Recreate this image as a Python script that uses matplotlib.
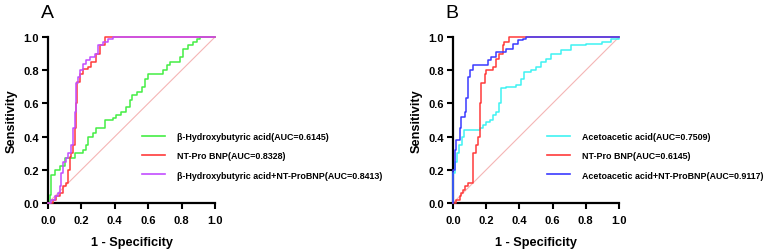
import numpy as np
import matplotlib.pyplot as plt
from matplotlib.lines import Line2D

plt.rcParams['font.family'] = ['Liberation Sans', 'DejaVu Sans']

# ---- panel A: beta-hydroxybutyric acid ----
a_green_fpr = [0, 0.01, 0.02, 0.04, 0.07, 0.10, 0.16, 0.21, 0.23, 0.24, 0.27, 0.29, 0.34, 0.39, 0.41,
               0.44, 0.47, 0.49, 0.50, 0.53, 0.56, 0.58, 0.60, 0.69, 0.71, 0.73, 0.79, 0.81, 0.84, 0.87,
               0.89, 0.91, 1.0]
a_green_tpr = [0, 0.05, 0.17, 0.20, 0.22, 0.27, 0.30, 0.32, 0.35, 0.40, 0.42, 0.45, 0.50, 0.51, 0.53,
               0.55, 0.58, 0.62, 0.65, 0.67, 0.70, 0.75, 0.78, 0.80, 0.83, 0.85, 0.88, 0.93, 0.95, 0.97,
               0.99, 1.0, 1.0]
a_red_fpr = [0, 0.03, 0.05, 0.07, 0.09, 0.11, 0.12, 0.13, 0.14, 0.15, 0.16, 0.165, 0.175, 0.19, 0.21,
             0.24, 0.26, 0.29, 0.31, 0.34, 1.0]
a_red_tpr = [0, 0.02, 0.04, 0.06, 0.10, 0.12, 0.20, 0.28, 0.30, 0.35, 0.45, 0.60, 0.73, 0.78, 0.81,
             0.82, 0.85, 0.90, 0.95, 1.0, 1.0]
a_purple_fpr = [0, 0.02, 0.04, 0.06, 0.07, 0.08, 0.09, 0.11, 0.12, 0.14, 0.15, 0.16, 0.165, 0.18, 0.19,
                0.21, 0.23, 0.25, 0.28, 0.30, 0.33, 0.36, 0.39, 1.0]
a_purple_tpr = [0, 0.02, 0.04, 0.06, 0.10, 0.18, 0.25, 0.27, 0.30, 0.35, 0.45, 0.55, 0.72, 0.76, 0.80,
                0.84, 0.86, 0.88, 0.90, 0.95, 0.97, 0.99, 1.0, 1.0]
a_labels = ['β-Hydroxybutyric acid(AUC=0.6145)', 'NT-Pro BNP(AUC=0.8328)',
            'β-Hydroxybutyric acid+NT-ProBNP(AUC=0.8413)']

# ---- panel B: acetoacetic acid ----
b_cyan_fpr = [0, 0.003, 0.012, 0.022, 0.038, 0.052, 0.068, 0.165, 0.18, 0.20, 0.22, 0.24, 0.26, 0.275,
              0.29, 0.32, 0.38, 0.41, 0.43, 0.47, 0.50, 0.53, 0.56, 0.59, 0.65, 0.71, 0.80, 0.90, 0.95,
              1.0]
b_cyan_tpr = [0, 0.18, 0.25, 0.30, 0.35, 0.40, 0.44, 0.45, 0.47, 0.49, 0.50, 0.53, 0.55, 0.60,
              0.69, 0.70, 0.71, 0.75, 0.79, 0.80, 0.82, 0.85, 0.87, 0.90, 0.92, 0.95, 0.96, 0.97, 0.99,
              1.0]
b_red_fpr = [0, 0.02, 0.04, 0.05, 0.06, 0.07, 0.09, 0.11, 0.12, 0.14, 0.15, 0.16, 0.17, 0.19, 0.20,
             0.24, 0.26, 0.28, 0.30, 0.31, 0.34, 1.0]
b_red_tpr = [0, 0.02, 0.04, 0.06, 0.08, 0.10, 0.12, 0.12, 0.30, 0.35, 0.40, 0.60, 0.72, 0.78, 0.80,
             0.82, 0.87, 0.90, 0.95, 0.97, 1.0, 1.0]
b_blue_fpr = [0, 0.003, 0.01, 0.02, 0.04, 0.05, 0.07, 0.08, 0.09, 0.10, 0.12, 0.19, 0.21, 0.23, 0.26,
              0.32, 0.36, 0.39, 0.42, 0.44, 1.0]
b_blue_tpr = [0, 0.20, 0.32, 0.38, 0.45, 0.52, 0.55, 0.63, 0.76, 0.80, 0.83, 0.83, 0.86, 0.88, 0.91,
              0.93, 0.96, 0.98, 0.99, 1.0, 1.0]
b_labels = ['Acetoacetic acid(AUC=0.7509)', 'NT-Pro BNP(AUC=0.6145)',
            'Acetoacetic acid+NT-ProBNP(AUC=0.9117)']

ticks = [0.0, 0.2, 0.4, 0.6, 0.8, 1.0]

fig = plt.figure(figsize=(7.67, 2.53), dpi=100)
ax_a = fig.add_axes([0.0626, 0.1937, 0.2177, 0.656])
ax_b = fig.add_axes([0.5906, 0.1937, 0.2164, 0.656])


def style_axis(ax, letter):
    ax.plot([0, 1], [0, 1], color='#f5b5b5', lw=0.8, zorder=1)
    ax.set_xlim(0, 1)
    ax.set_ylim(0, 1)
    ax.set_xticks(ticks)
    ax.set_yticks(ticks)
    ax.set_xticklabels([f'{t:.1f}' for t in ticks], fontsize=8, fontweight='bold')
    ax.set_yticklabels([f'{t:.1f}' for t in ticks], fontsize=8, fontweight='bold')
    ax.tick_params(direction='out', length=4, width=1.5)
    ax.tick_params(axis='x', pad=4.5)
    ax.tick_params(axis='y', pad=2.5)
    for s in ['top', 'right']:
        ax.spines[s].set_visible(False)
    for s in ['left', 'bottom']:
        ax.spines[s].set_linewidth(1.6)
    ax.set_xlabel('1 - Specificity', fontsize=9.2, fontweight='bold', labelpad=8)
    ax.set_ylabel('Sensitivity', fontsize=9.2, fontweight='bold', labelpad=4)
    ax.text(-0.005, 1.12, letter, transform=ax.transAxes, fontsize=14, ha='center', va='baseline')


def draw(ax, fpr, tpr, color):
    ax.plot(fpr, tpr, drawstyle='steps-post', color=color, lw=1.1, clip_on=False, zorder=3)


draw(ax_a, a_green_fpr, a_green_tpr, '#44ee44')
draw(ax_a, a_red_fpr, a_red_tpr, '#ff3b3b')
draw(ax_a, a_purple_fpr, a_purple_tpr, '#c24dff')
style_axis(ax_a, 'A')

draw(ax_b, b_cyan_fpr, b_cyan_tpr, '#3ff2f2')
draw(ax_b, b_red_fpr, b_red_tpr, '#ff3b3b')
draw(ax_b, b_blue_fpr, b_blue_tpr, '#3b3bff')
style_axis(ax_b, 'B')

handles_a = [Line2D([], [], color=c, lw=1.2) for c in ['#44ee44', '#ff3b3b', '#c24dff']]
handles_b = [Line2D([], [], color=c, lw=1.2) for c in ['#3ff2f2', '#ff3b3b', '#3b3bff']]

leg_kw = dict(loc='upper left', frameon=False, borderpad=0, borderaxespad=0, handlelength=2.6,
              handletextpad=1.35, labelspacing=1.15, prop={'size': 6.4, 'weight': 'bold'})
fig.legend(handles_a, a_labels, bbox_to_anchor=(0.1851, 0.474), **leg_kw)
fig.legend(handles_b, b_labels, bbox_to_anchor=(0.713, 0.474), **leg_kw)

fig.savefig('out.png', dpi=100)
